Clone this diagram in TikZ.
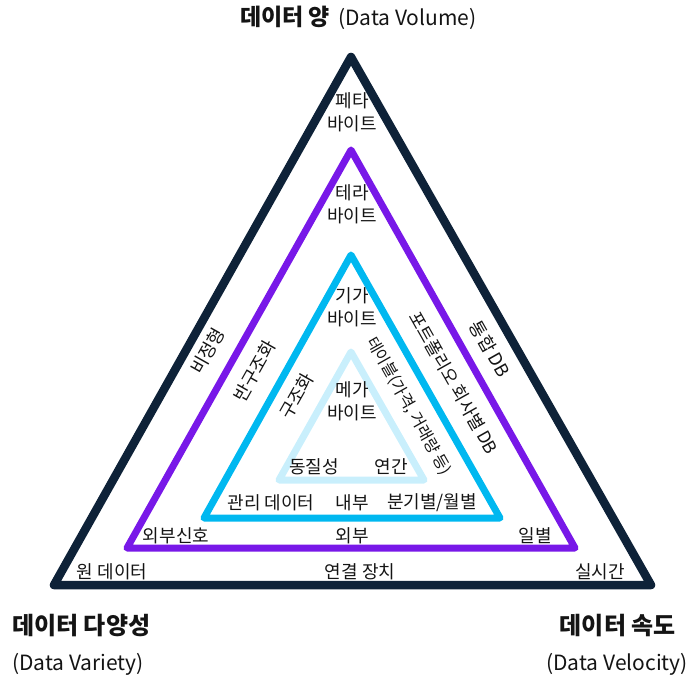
\documentclass[tikz,border=0pt]{standalone}
\usepackage{fontspec}
\setmainfont{Noto Sans CJK KR}
\definecolor{navy}{HTML}{0E2238}
\definecolor{vio}{HTML}{7818E8}
\definecolor{cyn}{HTML}{00B8F0}
\definecolor{lcyn}{HTML}{C9EFFC}
\definecolor{ink}{HTML}{141414}
\tikzset{
  tri/.style={line width=#1, line join=round},
  lbl/.style={font=\fontsize{18}{23}\selectfont, text=ink, inner sep=0pt, align=center},
  slbl/.style={font=\fontsize{#1}{23}\selectfont, text=ink, inner sep=0pt},
  ttl/.style={font=\fontsize{#1}{26}\selectfont\bfseries, text=ink, inner sep=0pt},
  sub/.style={font=\fontsize{#1}{24}\selectfont, text=ink, inner sep=0pt}
}
\begin{document}
\begin{tikzpicture}[x=1pt,y=-1pt]
\useasboundingbox (0,0) rectangle (688,676);
% vertices
\coordinate (oA) at (351,57);  \coordinate (oL) at (54,585);  \coordinate (oR) at (651,585);
\coordinate (pA) at (351,150); \coordinate (pL) at (127,548); \coordinate (pR) at (575,548);
\coordinate (cA) at (351,255); \coordinate (cL) at (204,518); \coordinate (cR) at (500,518);
\coordinate (lA) at (351,352); \coordinate (lL) at (279,480); \coordinate (lR) at (424,480);
\draw[tri=8.5pt, navy] (oA) -- (oL) -- (oR) -- cycle;
\draw[tri=7pt, vio] (pA) -- (pL) -- (pR) -- cycle;
\draw[tri=7pt, cyn] (cA) -- (cL) -- (cR) -- cycle;
\draw[tri=7pt, lcyn] (lA) -- (lL) -- (lR) -- cycle;
% titles
\node[ttl=23, anchor=base west] (t1) at (240,26) {데이터 양};
\node[sub=21, anchor=base west] (t1s) at (338,26) {(Data Volume)};
\node[ttl=24, anchor=base west] (t2) at (12,634) {데이터 다양성};
\node[sub=21, anchor=base west] (t2s) at (12,670) {(Data Variety)};
\node[ttl=24, anchor=base east] (t3) at (676,634) {데이터 속도};
\node[sub=21, anchor=base east] (t3s) at (688,670) {(Data Velocity)};
% apex labels
\node[lbl] (n1) at (352,112) {페타\\바이트};
\node[lbl] (n2) at (352,204) {테라\\바이트};
\node[lbl] (n3) at (352,307) {기가\\바이트};
\node[lbl] (n4) at (352,401) {메가\\바이트};
% left side labels
\node[slbl=18, rotate=60.6] (s1) at (208,351) {비정형};
\node[slbl=18, rotate=60.6] (s2) at (255,371) {반구조화};
\node[slbl=18, rotate=60.6] (s3) at (297,396) {구조화};
% right side labels
\node[slbl=18, rotate=-60.6] (r1) at (490,349) {통합 DB};
\node[slbl=17.5, rotate=-60.6] (r2) at (454,383) {포트폴리오 회사별 DB};
\node[slbl=16, rotate=-60.6] (r3) at (409,406) {테이블(가격, 거래량 등)};
% bottom labels
\node[lbl] (b1) at (314,467) {동질성};
\node[lbl] (b2) at (391,467) {연간};
\node[lbl] (b3) at (271,503) {관리 데이터};
\node[lbl] (b4) at (352,503) {내부};
\node[lbl] (b5) at (432,503) {분기별/월별};
\node[lbl] (b6) at (176,536) {외부신호};
\node[lbl] (b7) at (352,536) {외부};
\node[lbl] (b8) at (535,536) {일별};
\node[lbl] (b9) at (112,572) {원 데이터};
\node[lbl] (b10) at (360,572) {연결 장치};
\node[lbl] (b11) at (600,572) {실시간};
\end{tikzpicture}
\end{document}
